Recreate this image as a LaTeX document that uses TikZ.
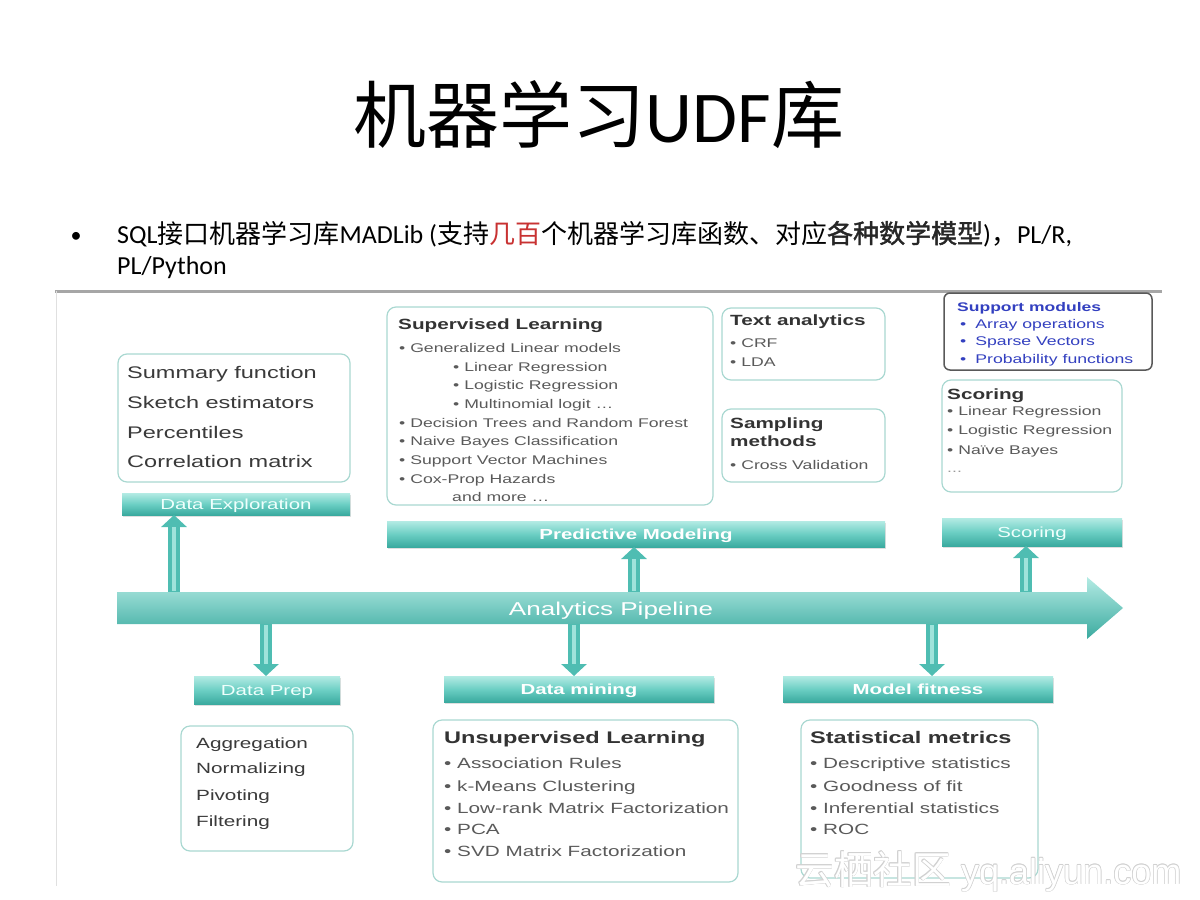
\documentclass[tikz,border=0pt]{standalone}
\usepackage{fontspec}
\setmainfont{Carlito}
\newfontfamily\cjk{Noto Sans CJK SC}
\newfontfamily\cjkb[FakeBold=1.6]{Noto Sans CJK SC}
\newfontfamily\df[FakeStretch=1.4]{Liberation Sans}
\newfontfamily\wmfont{Liberation Sans}
\usetikzlibrary{shadows,arrows.meta}
\definecolor{boxc}{HTML}{A9D8D1}
\definecolor{barT}{HTML}{B4EBE4}
\definecolor{barM}{HTML}{6CCFC4}
\definecolor{barB}{HTML}{3AAA9F}
\definecolor{arrc}{HTML}{4FBDB2}
\definecolor{arrl}{HTML}{9FE3DB}
\definecolor{headc}{HTML}{333333}
\definecolor{itemc}{HTML}{5A5A5A}
\definecolor{darkc}{HTML}{3A3A3A}
\definecolor{bluec}{HTML}{3340C0}
\definecolor{redc}{HTML}{C83232}
\definecolor{labc}{HTML}{EFFFFC}
\newcommand\fs[1]{\fontsize{#1}{#1}\selectfont}
\begin{document}
\begin{tikzpicture}[x=1pt,y=-1pt,
  box/.style={draw=boxc, line width=1.2pt, rounded corners=9pt, fill=white, inner sep=0pt},
  bar/.style={inner sep=0pt, top color=barT, bottom color=barB, middle color=barM,
    drop shadow={shadow xshift=1pt, shadow yshift=-2pt, opacity=0.25},
    text=labc, text height=10.5pt, text depth=0pt},
  barlab/.style={font=\df\fs{14.6}},
  barlabb/.style={font=\df\bfseries\fs{14.6}},
  sitem/.style={anchor=base west, inner sep=0pt, text=itemc, font=\df\fs{12.6}},
  litem/.style={anchor=base west, inner sep=0pt, text=itemc, font=\df\fs{14.8}},
  bigitem/.style={anchor=base west, inner sep=0pt, text=darkc, font=\df\fs{16.8}},
  shead/.style={anchor=base west, inner sep=0pt, text=headc, font=\df\bfseries\fs{14.8}},
  bhead/.style={anchor=base west, inner sep=0pt, text=headc, font=\df\bfseries\fs{16.8}},
  sarrow/.style={line width=12pt, draw=arrc, -{Triangle[width=25pt,length=12pt]}},
  shl/.style={line width=4.5pt, draw=arrl, shorten >=12pt, shorten <=1pt}
]
\useasboundingbox (0,0) rectangle (1200,900);

% title and bullet text
\node[anchor=base, inner sep=0pt, font=\fs{73}] (title) at (599,142) {{\cjk 机器学习}UDF{\cjk 库}};
\node[anchor=base, inner sep=0pt, font=\fs{22}] (bul) at (76,242) {\textbullet};
\node[anchor=base west, inner sep=0pt, font=\fs{26}] (l1) at (117,243)
  {SQL{\cjk 接口机器学习库}MADLib ({\cjk 支持\textcolor{redc}{几百}个机器学习库函数、对应}{\cjkb\color{black!85}各种数学模型}){\cjk ，}PL/R,};
\node[anchor=base west, inner sep=0pt, font=\fs{26}] (l2) at (117,274) {PL/Python};

% frame of the embedded figure
\draw[line width=3pt, black!35] (55,291) -- (1162,291);
\draw[line width=1pt, black!12] (56,291) -- (56,886);

% pipeline anchor node
\node[minimum width=970pt, minimum height=32pt, inner sep=0pt] (pipe) at (602,608) {};

% bars
\node[bar, barlab, minimum width=228pt, minimum height=22pt] (exbar) at (236,504) {Data Exploration};
\node[bar, barlabb, text=white, minimum width=498pt, minimum height=26pt] (predbar) at (636,534) {Predictive Modeling};
\node[bar, barlab, minimum width=180pt, minimum height=28pt] (scorebar) at (1032,532) {Scoring};
\node[bar, barlab, minimum width=146pt, minimum height=28pt] (prepbar) at (267,690) {Data Prep};
\node[bar, barlabb, text=white, minimum width=270pt, minimum height=26pt] (minebar) at (579,689) {Data mining};
\node[bar, barlabb, text=white, minimum width=270pt, minimum height=26pt] (fitbar) at (918,689) {Model fitness};

% arrow end points on the bars
\coordinate (a1) at (174,515);
\coordinate (a2) at (634,547);
\coordinate (a3) at (1026,546);
\coordinate (d1) at (266,676);
\coordinate (d2) at (574,676);
\coordinate (d3) at (932,676);

\foreach \c in {a1,a2,a3}{
  \draw[sarrow] (pipe.north -| \c) -- (\c);
  \draw[shl] (pipe.north -| \c) -- (\c);
}
\foreach \c in {d1,d2,d3}{
  \draw[sarrow] (pipe.south -| \c) -- (\c);
  \draw[shl] (pipe.south -| \c) -- (\c);
}

% pipeline arrow body
\shade[top color=barT, middle color=barM!90, bottom color=barB]
  (117,592) -- (1087,592) -- (1087,577) -- (1123,608) -- (1087,639) -- (1087,624) -- (117,624) -- cycle;
\node[anchor=base, inner sep=0pt, text=white, font=\df\fs{18.6}] (plabel) at (611,615) {Analytics Pipeline};

% Data exploration box
\node[box, minimum width=232pt, minimum height=128pt] (exbox) at (234,418) {};
\node[bigitem] (e1) at (127,378) {Summary function};
\node[bigitem] (e2) at (127,408) {Sketch estimators};
\node[bigitem] (e3) at (127,438) {Percentiles};
\node[bigitem] (e4) at (127,467) {Correlation matrix};

% Supervised learning box
\node[box, minimum width=326pt, minimum height=198pt] (supbox) at (550,406) {};
\node[shead] (s0) at (398,329) {Supervised Learning};
\node[sitem] (s1) at (399,352.5) {\textbullet\ Generalized Linear models};
\node[sitem] (s2) at (453,371.5) {\textbullet\ Linear Regression};
\node[sitem] (s3) at (453,389.5) {\textbullet\ Logistic Regression};
\node[sitem] (s4) at (453,408.5) {\textbullet\ Multinomial logit …};
\node[sitem] (s5) at (399,427.5) {\textbullet\ Decision Trees and Random Forest};
\node[sitem] (s6) at (399,445.5) {\textbullet\ Naive Bayes Classification};
\node[sitem] (s7) at (399,464.5) {\textbullet\ Support Vector Machines};
\node[sitem] (s8) at (399,483.5) {\textbullet\ Cox-Prop Hazards};
\node[sitem] (s9) at (452,501.5) {and more …};

% Text analytics box
\node[box, minimum width=163pt, minimum height=72pt] (textbox) at (803.5,344) {};
\node[shead] (t0) at (730,325) {Text analytics};
\node[sitem] (t1) at (730,347.5) {\textbullet\ CRF};
\node[sitem] (t2) at (730,366.5) {\textbullet\ LDA};

% Sampling methods box
\node[box, minimum width=163pt, minimum height=73pt] (sampbox) at (803.5,445.5) {};
\node[shead] (m0) at (730,428) {Sampling};
\node[shead] (m1) at (730,446) {methods};
\node[sitem] (m2) at (730,469.5) {\textbullet\ Cross Validation};

% Support modules box
\node[draw=black!65, line width=1.5pt, rounded corners=6pt, fill=white, inner sep=0pt,
  minimum width=208pt, minimum height=77pt] (suppbox) at (1048,331.5) {};
\node[anchor=base west, inner sep=0pt, text=bluec, font=\df\bfseries\fs{12.5}] (u0) at (957,311.5) {Support modules};
\node[anchor=base west, inner sep=0pt, text=bluec, font=\df\fs{12.6}] (u1) at (960,328.5) {\textbullet\hspace{9pt}Array operations};
\node[anchor=base west, inner sep=0pt, text=bluec, font=\df\fs{12.6}] (u2) at (960,345.5) {\textbullet\hspace{9pt}Sparse Vectors};
\node[anchor=base west, inner sep=0pt, text=bluec, font=\df\fs{12.6}] (u3) at (960,363.5) {\textbullet\hspace{9pt}Probability functions};

% Scoring box
\node[box, minimum width=180pt, minimum height=112pt] (scorebox) at (1032,436) {};
\node[shead] (c0) at (947,399) {Scoring};
\node[sitem] (c1) at (947,415.5) {\textbullet\ Linear Regression};
\node[sitem] (c2) at (947,434.5) {\textbullet\ Logistic Regression};
\node[sitem] (c3) at (947,454.5) {\textbullet\ Naïve Bayes};
\node[sitem, text=black!40] (c4) at (947,472) {...};

% Data prep box
\node[box, minimum width=172pt, minimum height=125pt] (prepbox) at (267,788.5) {};
\node[litem, text=darkc] (p1) at (196,748) {Aggregation};
\node[litem, text=darkc] (p2) at (196,773) {Normalizing};
\node[litem, text=darkc] (p3) at (196,800) {Pivoting};
\node[litem, text=darkc] (p4) at (196,826) {Filtering};

% Unsupervised learning box
\node[box, minimum width=305pt, minimum height=162pt] (unsbox) at (585.5,801) {};
\node[bhead] (n0) at (444,743) {Unsupervised Learning};
\node[litem] (n1) at (444,768.3) {\textbullet\ Association Rules};
\node[litem] (n2) at (444,791.3) {\textbullet\ k-Means Clustering};
\node[litem] (n3) at (444,813.3) {\textbullet\ Low-rank Matrix Factorization};
\node[litem] (n4) at (444,834.3) {\textbullet\ PCA};
\node[litem] (n5) at (444,856.3) {\textbullet\ SVD Matrix Factorization};

% Statistical metrics box
\node[box, minimum width=237pt, minimum height=158pt] (statbox) at (919.5,799) {};
\node[bhead] (q0) at (810,743) {Statistical metrics};
\node[litem] (q1) at (810,768.3) {\textbullet\ Descriptive statistics};
\node[litem] (q2) at (810,791.3) {\textbullet\ Goodness of fit};
\node[litem] (q3) at (810,813.3) {\textbullet\ Inferential statistics};
\node[litem] (q4) at (810,834.3) {\textbullet\ ROC};

% watermark (outlined)
\foreach \dx/\dy [count=\i] in {0.7/0,-0.7/0,0/0.7,0/-0.7,0.5/0.5,-0.5/0.5,0.5/-0.5,-0.5/-0.5}{
  \node[anchor=base west, inner sep=0pt, text=black!18] (wmh\i) at (795+\dx,884+\dy)
    {{\cjk\fs{39}云栖社区}{\wmfont\fs{36} yq.aliyun.com}};
}
\node[anchor=base west, inner sep=0pt, text=white] (wm) at (795,884)
  {{\cjk\fs{39}云栖社区}{\wmfont\fs{36} yq.aliyun.com}};
\end{tikzpicture}
\end{document}
